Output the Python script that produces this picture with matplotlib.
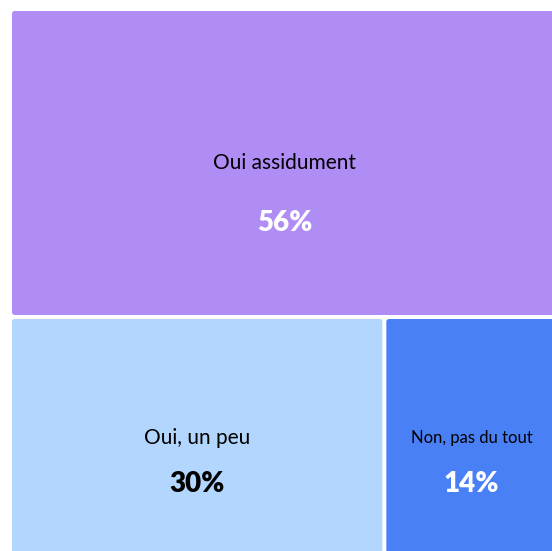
import matplotlib.pyplot as plt
from matplotlib.patches import FancyBboxPatch

labels = ["Oui assidument", "Oui, un peu", "Non, pas du tout"]
values = [56, 30, 14]
colors = ["#b08cf5", "#b3d6fe", "#4a80f5"]
pct_colors = ["white", "black", "white"]
label_sizes = [15, 15, 12]
pct_gap = [43, 33, 33]  # points between label and percentage

plt.rcParams["font.family"] = ["Lato", "DejaVu Sans"]

fig = plt.figure(figsize=(5.52, 5.51), dpi=100)
# treemap area runs slightly past the right and bottom edges
ax = fig.add_axes([10 / 552, -8 / 551, 549 / 552, 550 / 551])
ax.set_xlim(0, 1)
ax.set_ylim(0, 1)
ax.axis("off")

total = sum(values)
# first tile takes a full-width row on top, the rest share the bottom row
top_h = values[0] / total
rects = [(0, 1 - top_h, 1, top_h)]
rest = sum(values[1:])
x = 0
for v in values[1:]:
    w = v / rest
    rects.append((x, 0, w, 1 - top_h))
    x += w

gap = 2.0 / 549
for (rx, ry, rw, rh), lab, val, c, pc, ls, g in zip(rects, labels, values, colors,
                                                 pct_colors, label_sizes, pct_gap):
    p = FancyBboxPatch((rx + gap, ry + gap), rw - 2 * gap, rh - 2 * gap,
                       boxstyle="round,pad=0,rounding_size=0.005",
                       facecolor=c, edgecolor="none")
    ax.add_patch(p)
    cx, cy = rx + rw / 2, ry + rh / 2
    ax.text(cx, cy, lab, ha="center", va="center", fontsize=ls, color="black")
    ax.annotate(f"{val}%", (cx, cy), xytext=(0, -g), textcoords="offset points",
                ha="center", va="center", fontsize=20, fontweight="heavy", color=pc)

fig.savefig("out.png", dpi=100)
